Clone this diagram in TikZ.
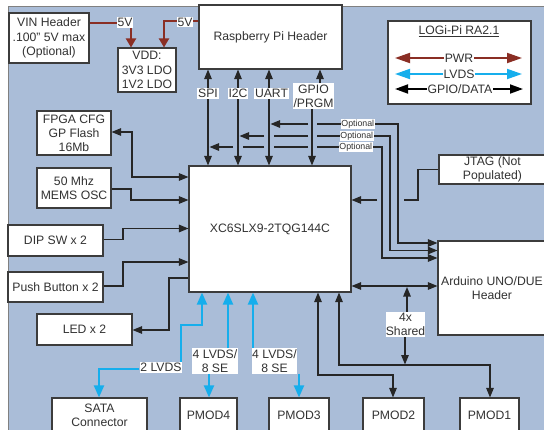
\documentclass[tikz,border=0pt]{standalone}
\usepackage{fontspec}
\setmainfont{Liberation Sans}
\usetikzlibrary{arrows.meta}
\definecolor{bgblue}{RGB}{170,189,216}
\definecolor{pwrred}{RGB}{138,46,36}
\definecolor{lvdsblue}{RGB}{22,174,236}
\definecolor{edgegray}{RGB}{60,60,60}
\definecolor{ink}{RGB}{50,50,50}
\begin{document}
\begin{tikzpicture}[x=1pt,y=-1pt,
  font=\fontsize{12.2}{14.2}\selectfont,
  box/.style={draw=edgegray, line width=1.1pt, fill=white, text=ink, align=center, inner sep=0pt},
  lbl/.style={fill=white, text=ink, align=center, inner xsep=0.8pt, inner ysep=1.2pt},
  optl/.style={fill=white, text=ink, inner xsep=0.6pt, inner ysep=0.6pt, font=\fontsize{8.8}{10}\selectfont},
  conn/.style={draw=black!85, line width=1.2pt, >={Triangle[length=9.5pt,width=7.5pt]}},
  lvds/.style={draw=lvdsblue, line width=2pt, >={Triangle[length=12pt,width=10pt]}},
  pwr/.style={draw=pwrred, line width=2pt, >={Triangle[length=9pt,width=10pt]}},
  legpwr/.style={draw=pwrred, line width=1.8pt, >={Triangle[length=15pt,width=10pt]}},
  leglvds/.style={draw=lvdsblue, line width=1.8pt, >={Triangle[length=15pt,width=10pt]}},
  leggpio/.style={draw=black, line width=1.8pt, >={Triangle[length=13pt,width=9pt]}}
]
\useasboundingbox (0,0) rectangle (544,429);
\clip (0,0) rectangle (544,429);
% background
\fill[white] (0,0) rectangle (544,429);
\fill[bgblue] (8,6) rectangle (552,440);
\draw[gray, line width=0.8pt] (8,440) -- (8,6) -- (552,6);

% boxes
\node[box, minimum width=80pt, minimum height=50pt] (vin) at (49,38) {VIN Header\\.100" 5V max\\(Optional)};
\node[box, minimum width=58pt, minimum height=44pt] (vdd) at (147,70) {VDD:\\3V3 LDO\\1V2 LDO};
\node[box, minimum width=143pt, minimum height=64pt] (rpi) at (270.5,37) {Raspberry Pi Header};
\node[box, minimum width=143pt, minimum height=83pt] (leg) at (459.5,62.5) {};
\node[box, minimum width=74pt, minimum height=44pt] (flash) at (74,133) {FPGA CFG\\GP Flash\\16Mb};
\node[box, minimum width=74pt, minimum height=40pt] (osc) at (74,188) {50 Mhz\\MEMS OSC};
\node[box, minimum width=95pt, minimum height=31pt] (dip) at (55.5,240.5) {DIP SW x 2};
\node[box, minimum width=95pt, minimum height=30pt] (push) at (55.5,287) {Push Button x 2};
\node[box, minimum width=95pt, minimum height=31pt] (led) at (84.5,329.5) {LED x 2};
\node[box, minimum width=162pt, minimum height=126pt] (fpga) at (270,229) {XC6SLX9-2TQG144C};
\node[box, minimum width=107pt, minimum height=29pt] (jtag) at (492.5,169.5) {JTAG (Not\\Populated)};
\node[box, minimum width=108pt, minimum height=94pt] (ard) at (492,288) {Arduino UNO/DUE\\Header};
\node[box, minimum width=95pt, minimum height=34pt] (sata) at (99.5,415) {SATA\\Connector};
\node[box, minimum width=57pt, minimum height=34pt] (pm4) at (208.5,415) {PMOD4};
\node[box, minimum width=60pt, minimum height=34pt] (pm3) at (299,415) {PMOD3};
\node[box, minimum width=61pt, minimum height=34pt] (pm2) at (393.5,415) {PMOD2};
\node[box, minimum width=59pt, minimum height=34pt] (pm1) at (489.5,415) {PMOD1};

% legend
\node[text=ink] (legt) at (459,31) {\underline{LOGi-Pi RA2.1}};
\coordinate (lpl) at (395,58); \coordinate (lpr) at (522,58);
\coordinate (lll) at (395,74); \coordinate (llr) at (522,74);
\coordinate (lgl) at (395,89); \coordinate (lgr) at (523,89);
\node[lbl, inner xsep=0.5pt, inner ysep=0pt] (lpwr) at (459,58) {PWR};
\node[lbl, inner xsep=0.5pt, inner ysep=0pt] (llvds) at (459,74) {LVDS};
\node[lbl, inner xsep=0.5pt, inner ysep=0pt] (lgpio) at (460,89) {GPIO/DATA};
\draw[legpwr,->] (lpwr.west) -- (lpl);
\draw[legpwr,->] (lpwr.east) -- (lpr);
\draw[leglvds,->] (llvds.west) -- (lll);
\draw[leglvds,->] (llvds.east) -- (llr);
\draw[leggpio,->] (lgpio.west) -- (lgl);
\draw[leggpio,->] (lgpio.east) -- (lgr);

% power
\node[lbl] (v1) at (125,22.5) {5V};
\node[lbl] (v2) at (185,22) {5V};
\draw[pwr] (vin.east |- 0,23) -- (v1.west |- 0,23);
\draw[pwr,->] (131,0 |- v1.south) -- (131,0 |- vdd.north);
\draw[pwr] (rpi.west |- 0,21) -- (v2.east |- 0,21);
\draw[pwr] (v2.west |- 0,21) -| (164,0 |- v2.south);
\draw[pwr,->] (164,0 |- v2.south) -- (164,0 |- vdd.north);

% Pi buses
\node[lbl] (spil) at (208,93.5) {SPI};
\node[lbl] (i2cl) at (238,93.5) {I2C};
\node[lbl] (uartl) at (271.5,93.5) {UART};
\node[lbl] (gpiol) at (313.5,96) {GPIO\\/PRGM};
\draw[conn,->] (208,0 |- spil.north) -- (208,0 |- rpi.south);
\draw[conn,->] (208,0 |- spil.south) -- (208,0 |- fpga.north);
\draw[conn,->] (238,0 |- i2cl.north) -- (238,0 |- rpi.south);
\draw[conn,->] (238,0 |- i2cl.south) -- (238,0 |- fpga.north);
\draw[conn,->] (269,0 |- uartl.north) -- (269,0 |- rpi.south);
\draw[conn,->] (269,0 |- uartl.south) -- (269,0 |- fpga.north);
\draw[conn,->] (320,0 |- gpiol.north) -- (320,0 |- rpi.south);
\draw[conn,->] (312,0 |- gpiol.south) -- (312,0 |- fpga.north);

% optional lines
\node[optl, anchor=east] (o1) at (375,124) {Optional};
\node[optl, anchor=east] (o2) at (374,136) {Optional};
\node[optl, anchor=east] (o3) at (373,147) {Optional};
\draw[conn,->] (o1.east) -| (398,243) -- (ard.west |- 0,243);
\draw[conn,->] (o1.west) -- (317,124) (308,124) -- (270.5,124);
\draw[conn,->] (o2.east) -| (390,250.5) -- (ard.west |- 0,250.5);
\draw[conn,->] (o2.west) -- (317,136) (308,136) -- (274,136) (264,136) -- (239.5,136);
\draw[conn,->] (o3.east) -| (382,258) -- (ard.west |- 0,258);
\draw[conn,->] (o3.west) -- (317,147) (308,147) -- (274,147) (264,147) -- (243,147) (233,147) -- (209.5,147);

% JTAG
\draw[conn,->] (jtag.west) -| (418,200) -- (404,200) (377,200) -- (fpga.east |- 0,200);

% left side
\draw[conn,<->] (flash.east |- 0,132) -| (132,177) -- (fpga.west |- 0,177);
\draw[conn,->] (osc.east |- 0,189) -| (131,200) -- (fpga.west |- 0,200);
\draw[conn,->] (dip.east |- 0,239.5) -| (123,228.5) -- (fpga.west |- 0,228.5);
\draw[conn,->] (push.east |- 0,286) -| (123,262) -- (fpga.west |- 0,262);
\draw[conn,->] (fpga.west |- 0,278) -| (169,330) -- (led.east |- 0,330);

% Arduino shared
\node[lbl, inner xsep=0pt] (shr) at (405.5,324.5) {4x\\Shared};
\draw[conn,<->] (fpga.east |- 0,286) -- (ard.west |- 0,286);
\draw[conn,->] (407,0 |- shr.north) -- (407,287);
\draw[conn,->] (405,0 |- shr.south) -- (405,364.5);
\draw[conn,<->] (339,0 |- fpga.south) |- (490,365) -- (490,0 |- pm1.north);
\draw[conn,<->] (318,0 |- fpga.south) |- (393,375) -- (393,0 |- pm2.north);

% LVDS
\node[lbl] (l2) at (161,367.5) {2 LVDS};
\node[lbl, inner xsep=0.3pt] (l4a) at (215,361) {4 LVDS/\\8 SE};
\node[lbl, inner xsep=0.3pt] (l4b) at (274.5,361) {4 LVDS/\\8 SE};
\draw[lvds,<-] (202,0 |- fpga.south) |- (181,325) -- (181,0 |- l2.north);
\draw[lvds,->] (l2.west |- 0,369) -| (99,0 |- sata.north);
\draw[lvds,->] (228,0 |- l4a.north) -- (228,0 |- fpga.south);
\draw[lvds,->] (209,0 |- l4a.south) -- (209,0 |- pm4.north);
\draw[lvds,->] (253,0 |- l4b.north) -- (253,0 |- fpga.south);
\draw[lvds,->] (299,0 |- l4b.south) -- (299,0 |- pm3.north);
\end{tikzpicture}
\end{document}
